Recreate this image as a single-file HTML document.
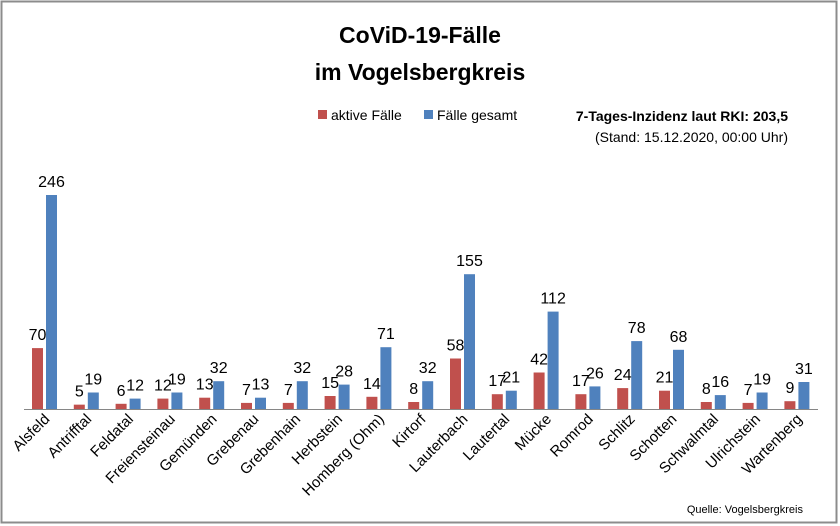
<!DOCTYPE html>
<html><head><meta charset="utf-8"><style>
body{margin:0;background:#fff}
svg{display:block;font-family:"Liberation Sans",sans-serif}
</style></head><body>
<svg width="840" height="526" viewBox="0 0 840 526" xmlns="http://www.w3.org/2000/svg">
<rect x="1.5" y="1.5" width="835" height="521" fill="#fff" stroke="#8c8c8c" stroke-width="2"/>
<text x="420" y="43" font-size="23" font-weight="bold" text-anchor="middle">CoViD-19-Fälle</text>
<text x="420" y="80" font-size="23" font-weight="bold" text-anchor="middle">im Vogelsbergkreis</text>
<rect x="318" y="110" width="9" height="9" fill="#c0504d"/>
<text x="331" y="120" font-size="14">aktive Fälle</text>
<rect x="424" y="110" width="9" height="9" fill="#4f81bd"/>
<text x="437" y="120" font-size="14">Fälle gesamt</text>
<text x="788" y="121" font-size="14" font-weight="bold" text-anchor="end">7-Tages-Inzidenz laut RKI: 203,5</text>
<text x="788" y="142" font-size="14" text-anchor="end">(Stand: 15.12.2020, 00:00 Uhr)</text>
<g fill="#c0504d">
<rect x="32" y="348.1" width="11" height="60.9"/>
<rect x="73.8" y="404.65" width="11" height="4.35"/>
<rect x="115.6" y="403.8" width="11" height="5.2"/>
<rect x="157.4" y="398.6" width="11" height="10.4"/>
<rect x="199.2" y="397.7" width="11" height="11.3"/>
<rect x="241" y="402.9" width="11" height="6.1"/>
<rect x="282.8" y="402.9" width="11" height="6.1"/>
<rect x="324.6" y="396" width="11" height="13"/>
<rect x="366.4" y="396.8" width="11" height="12.2"/>
<rect x="408.2" y="402" width="11" height="7"/>
<rect x="450" y="358.5" width="11" height="50.5"/>
<rect x="491.8" y="394.2" width="11" height="14.8"/>
<rect x="533.6" y="372.5" width="11" height="36.5"/>
<rect x="575.4" y="394.2" width="11" height="14.8"/>
<rect x="617.2" y="388.1" width="11" height="20.9"/>
<rect x="659" y="390.7" width="11" height="18.3"/>
<rect x="700.8" y="402" width="11" height="7"/>
<rect x="742.6" y="402.9" width="11" height="6.1"/>
<rect x="784.4" y="401.2" width="11" height="7.8"/>
</g>
<g fill="#4f81bd">
<rect x="46" y="195" width="11" height="214"/>
<rect x="87.8" y="392.5" width="11" height="16.5"/>
<rect x="129.6" y="398.6" width="11" height="10.4"/>
<rect x="171.4" y="392.5" width="11" height="16.5"/>
<rect x="213.2" y="381.2" width="11" height="27.8"/>
<rect x="255" y="397.7" width="11" height="11.3"/>
<rect x="296.8" y="381.2" width="11" height="27.8"/>
<rect x="338.6" y="384.6" width="11" height="24.4"/>
<rect x="380.4" y="347.2" width="11" height="61.8"/>
<rect x="422.2" y="381.2" width="11" height="27.8"/>
<rect x="464" y="274.2" width="11" height="134.8"/>
<rect x="505.8" y="390.7" width="11" height="18.3"/>
<rect x="547.6" y="311.6" width="11" height="97.4"/>
<rect x="589.4" y="386.4" width="11" height="22.6"/>
<rect x="631.2" y="341.1" width="11" height="67.9"/>
<rect x="673" y="349.8" width="11" height="59.2"/>
<rect x="714.8" y="395.1" width="11" height="13.9"/>
<rect x="756.6" y="392.5" width="11" height="16.5"/>
<rect x="798.4" y="382" width="11" height="27"/>
</g>
<line x1="24" y1="409.5" x2="818" y2="409.5" stroke="#868686" stroke-width="1"/>
<g font-size="16" text-anchor="middle">
<text x="37.5" y="340">70</text><text x="51.5" y="187">246</text>
<text x="79.3" y="396.6">5</text><text x="93.3" y="384.5">19</text>
<text x="121.1" y="395.8">6</text><text x="135.1" y="390.6">12</text>
<text x="162.9" y="390.6">12</text><text x="176.9" y="384.5">19</text>
<text x="204.7" y="389.7">13</text><text x="218.7" y="373.2">32</text>
<text x="246.5" y="394.9">7</text><text x="260.5" y="389.7">13</text>
<text x="288.3" y="394.9">7</text><text x="302.3" y="373.2">32</text>
<text x="330.1" y="388">15</text><text x="344.1" y="376.6">28</text>
<text x="371.9" y="388.8">14</text><text x="385.9" y="339.2">71</text>
<text x="413.7" y="394">8</text><text x="427.7" y="373.2">32</text>
<text x="455.5" y="350.5">58</text><text x="469.5" y="266.2">155</text>
<text x="497.3" y="386.2">17</text><text x="511.3" y="382.7">21</text>
<text x="539.1" y="364.5">42</text><text x="553.1" y="303.6">112</text>
<text x="580.9" y="386.2">17</text><text x="594.9" y="378.4">26</text>
<text x="622.7" y="380.1">24</text><text x="636.7" y="333.1">78</text>
<text x="664.5" y="382.7">21</text><text x="678.5" y="341.8">68</text>
<text x="706.3" y="394">8</text><text x="720.3" y="387.1">16</text>
<text x="748.1" y="394.9">7</text><text x="762.1" y="384.5">19</text>
<text x="789.9" y="393.2">9</text><text x="803.9" y="374">31</text>
</g>
<g font-size="15" text-anchor="end">
<text transform="translate(50.5,420) rotate(-45)">Alsfeld</text>
<text transform="translate(92.3,420) rotate(-45)">Antrifftal</text>
<text transform="translate(134.1,420) rotate(-45)">Feldatal</text>
<text transform="translate(175.9,420) rotate(-45)">Freiensteinau</text>
<text transform="translate(217.7,420) rotate(-45)">Gemünden</text>
<text transform="translate(259.5,420) rotate(-45)">Grebenau</text>
<text transform="translate(301.3,420) rotate(-45)">Grebenhain</text>
<text transform="translate(343.1,420) rotate(-45)">Herbstein</text>
<text transform="translate(384.9,420) rotate(-45)">Homberg (Ohm)</text>
<text transform="translate(426.7,420) rotate(-45)">Kirtorf</text>
<text transform="translate(468.5,420) rotate(-45)">Lauterbach</text>
<text transform="translate(510.3,420) rotate(-45)">Lautertal</text>
<text transform="translate(552.1,420) rotate(-45)">Mücke</text>
<text transform="translate(593.9,420) rotate(-45)">Romrod</text>
<text transform="translate(635.7,420) rotate(-45)">Schlitz</text>
<text transform="translate(677.5,420) rotate(-45)">Schotten</text>
<text transform="translate(719.3,420) rotate(-45)">Schwalmtal</text>
<text transform="translate(761.1,420) rotate(-45)">Ulrichstein</text>
<text transform="translate(802.9,420) rotate(-45)">Wartenberg</text>
</g>
<text x="803" y="513" font-size="11" text-anchor="end">Quelle: Vogelsbergkreis</text>
</svg>
</body></html>
